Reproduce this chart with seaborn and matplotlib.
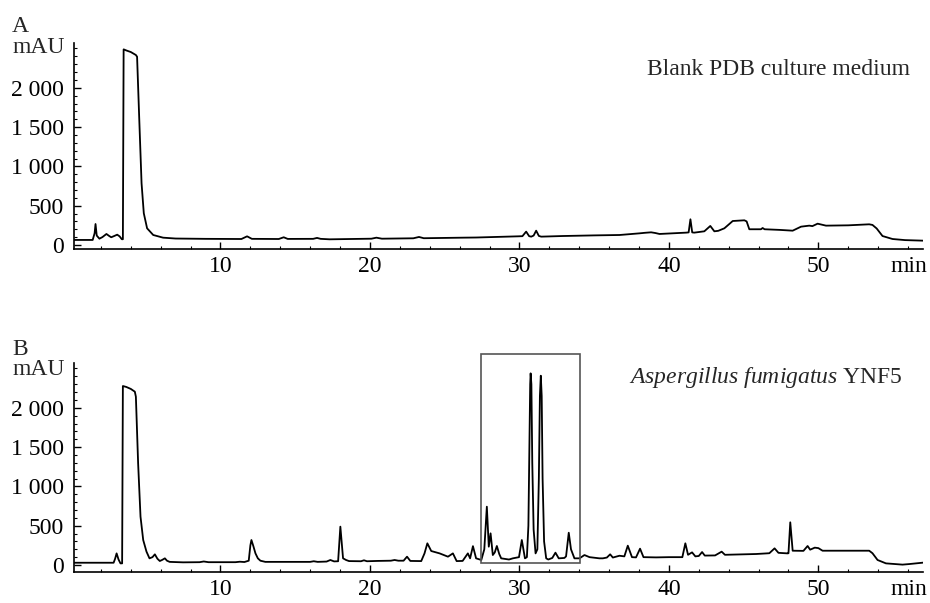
import matplotlib
matplotlib.use("Agg")
import matplotlib.pyplot as plt
import pandas as pd
import seaborn as sns
from matplotlib.ticker import MultipleLocator, FixedLocator, FuncFormatter
from matplotlib.patches import Rectangle

# ---------------- data ----------------
# Panel A: blank PDB culture medium  (time [min], signal [mAU])
trace_a = [
    (0.2, 64), (1.45, 64), (1.58, 150), (1.64, 267), (1.72, 120), (1.9, 80),
    (2.1, 100), (2.37, 140), (2.55, 115), (2.69, 98), (2.9, 115), (3.09, 131),
    (3.25, 110), (3.4, 73), (3.47, 73), (3.52, 2489), (3.7, 2475), (4.0, 2455),
    (4.34, 2417), (4.42, 2395), (4.56, 1632), (4.72, 785), (4.87, 403),
    (5.09, 212), (5.5, 127), (6.16, 93), (7.0, 82), (9.0, 78), (11.4, 76),
    (11.78, 110), (12.1, 78), (13.9, 76), (14.23, 98), (14.5, 77), (16.2, 78),
    (16.46, 90), (16.7, 78), (17.3, 72), (20.1, 80), (20.43, 93), (20.8, 80),
    (22.9, 85), (23.28, 102), (23.6, 86), (26.2, 93), (27.1, 95), (29.9, 110),
    (30.2, 112), (30.45, 170), (30.65, 112), (30.79, 106), (30.95, 120),
    (31.12, 182), (31.3, 115), (31.46, 106), (32.9, 114), (35.0, 122),
    (36.7, 127), (38.03, 148), (38.4, 155), (38.81, 161), (39.1, 152),
    (39.37, 140), (41.15, 157), (41.32, 160), (41.44, 327), (41.56, 160),
    (41.7, 157), (42.37, 174), (42.77, 242), (43.04, 174), (43.3, 180),
    (43.71, 212), (44.0, 260), (44.27, 305), (45.05, 314), (45.2, 300),
    (45.38, 200), (46.16, 200), (46.27, 216), (46.4, 200), (47.4, 192),
    (48.28, 182), (48.84, 233), (49.39, 246), (49.6, 240), (49.95, 271),
    (50.51, 246), (52.0, 250), (53.4, 263), (53.62, 255), (53.9, 210),
    (54.29, 114), (54.96, 76), (55.8, 62), (57.0, 55),
]

# Panel B: Aspergillus fumigatus YNF5
trace_b = [
    (0.2, 29), (2.85, 29), (2.95, 80), (3.05, 148), (3.18, 70), (3.31, 21),
    (3.42, 21), (3.47, 2277), (3.7, 2265), (4.0, 2240), (4.27, 2205),
    (4.34, 2141), (4.49, 1293), (4.65, 615), (4.83, 318), (5.05, 170),
    (5.25, 85), (5.45, 100), (5.61, 136), (5.78, 80), (5.94, 51), (6.1, 65),
    (6.28, 85), (6.42, 55), (6.6, 40), (7.5, 34), (8.6, 36), (8.88, 45),
    (9.2, 36), (11.0, 36), (11.3, 42), (11.6, 38), (11.89, 55), (12.0, 250),
    (12.07, 318), (12.2, 240), (12.34, 148), (12.5, 85), (12.67, 55),
    (13.0, 40), (16.0, 40), (16.24, 48), (16.5, 40), (17.1, 44), (17.35, 64),
    (17.6, 46), (17.87, 48), (18.02, 488), (18.2, 85), (18.4, 64), (18.6, 50),
    (19.4, 48), (19.6, 60), (19.8, 48), (20.5, 52), (21.4, 55), (21.65, 64),
    (21.9, 55), (22.25, 55), (22.48, 106), (22.7, 52), (23.43, 50),
    (23.65, 148), (23.84, 276), (24.1, 178), (24.66, 148), (25.22, 106),
    (25.45, 135), (25.55, 148), (25.8, 50), (26.2, 52), (26.55, 148),
    (26.7, 85), (26.89, 240), (27.1, 85), (27.45, 64), (27.65, 200),
    (27.82, 742), (27.95, 233), (28.07, 403), (28.22, 127), (28.35, 160),
    (28.49, 242), (28.65, 140), (28.78, 85), (29.3, 70), (29.56, 85),
    (29.97, 100), (30.16, 318), (30.37, 85), (30.5, 100), (30.6, 500),
    (30.67, 1500), (30.72, 2300), (30.75, 2438), (30.8, 2300), (30.86, 1300),
    (30.95, 450), (31.08, 148), (31.2, 200), (31.3, 1100), (31.37, 2150),
    (31.43, 2408), (31.49, 2150), (31.55, 1100), (31.65, 300), (31.79, 85),
    (31.93, 70), (32.2, 90), (32.41, 157), (32.63, 85), (33.01, 90),
    (33.12, 110), (33.3, 411), (33.45, 200), (33.68, 85), (34.02, 85),
    (34.35, 127), (34.69, 100), (35.35, 85), (35.58, 85), (35.85, 95),
    (36.07, 136), (36.25, 95), (36.69, 118), (37.02, 110), (37.25, 246),
    (37.53, 100), (37.8, 97), (38.07, 208), (38.3, 100), (39.14, 97),
    (40.0, 100), (40.9, 100), (41.1, 276), (41.28, 130), (41.55, 161),
    (41.77, 110), (42.0, 115), (42.22, 165), (42.4, 120), (43.09, 122),
    (43.53, 170), (43.75, 130), (44.8, 135), (45.83, 140), (46.72, 150),
    (47.07, 212), (47.33, 155), (47.94, 148), (48.0, 150), (48.12, 543),
    (48.28, 182), (49.0, 180), (49.28, 242), (49.45, 195), (49.76, 221),
    (50.0, 215), (50.28, 182), (51.5, 182), (53.4, 182), (53.62, 150),
    (53.96, 64), (54.52, 21), (55.63, 5), (56.07, 12), (57.0, 30),
]

# highlighted region in panel B: (t_start, t_end, y_bottom, y_top)
box_b = (27.4, 34.08, 21, 2680)

x_major = [10, 20, 30, 40, 50]
y_major = [0, 500, 1000, 1500, 2000]
panel_letters = ["A", "B"]
panel_titles = ["Blank PDB culture medium",
                r"$\mathit{Aspergillus\ fumigatus}$ YNF5"]
y_unit = "mAU"
x_unit = "min"

# ---------------- style ----------------
sns.set_theme(style="ticks")
plt.rcParams["font.family"] = ["Liberation Serif", "DejaVu Serif"]
plt.rcParams["mathtext.fontset"] = "custom"
plt.rcParams["mathtext.rm"] = "Liberation Serif"
plt.rcParams["mathtext.it"] = "Liberation Serif:italic"

FS = 17
W, H = 930, 603
fig = plt.figure(figsize=(W / 100, H / 100), dpi=100)
fig.patch.set_facecolor("white")

axA = fig.add_axes([74 / W, 1 - 249.3 / H, (923 - 74) / W, 206 / H])
axB = fig.add_axes([74 / W, 1 - 571.7 / H, (923 - 74) / W, 208.4 / H])

dfs = [pd.DataFrame(trace_a, columns=["time", "signal"]),
       pd.DataFrame(trace_b, columns=["time", "signal"])]
ylims = [(-55, 2566), (-85, 2566)]

fmt = FuncFormatter(lambda v, p: f"{int(round(v)):,}".replace(",", " "))

for ax, df, ylim in zip([axA, axB], dfs, ylims):
    sns.lineplot(data=df, x="time", y="signal", ax=ax, color="black",
                 lw=1.3, estimator=None, sort=False)
    ax.set_xlim(0.2, 57.0)
    ax.set_ylim(*ylim)
    ax.set_facecolor("white")
    ax.set_xlabel("")
    ax.set_ylabel("")
    ax.xaxis.set_major_locator(FixedLocator(x_major))
    ax.xaxis.set_minor_locator(MultipleLocator(2))
    ax.yaxis.set_major_locator(FixedLocator(y_major))
    ax.yaxis.set_minor_locator(MultipleLocator(100))
    ax.yaxis.set_major_formatter(fmt)
    sns.despine(ax=ax)
    for s in ["left", "bottom"]:
        ax.spines[s].set_linewidth(1.2)
        ax.spines[s].set_color("black")
    ax.tick_params(axis="both", which="major", direction="in", length=5,
                   width=1.0, color="black", labelsize=FS, labelcolor="black")
    ax.tick_params(axis="both", which="minor", direction="in", length=2.5,
                   width=0.8, color="black")
    ax.tick_params(axis="x", which="major", pad=5)
    ax.tick_params(axis="y", which="major", pad=7)
    ax.annotate(x_unit, xy=(56.05, 0), xycoords=ax.get_xaxis_transform(),
                xytext=(0, -5), textcoords="offset points",
                ha="center", va="top", fontsize=FS, color="black")

# box in panel B
t0, t1, yb, yt = box_b
axB.add_patch(Rectangle((t0, yb), t1 - t0, yt - yb, fill=False,
                        ec="#555555", lw=1.2, clip_on=False, zorder=3))

# panel letters and unit labels
fig.text(12 / W, 1 - 32 / H, panel_letters[0], fontsize=FS, va="baseline", ha="left")
fig.text(12 / W, 1 - 53 / H, y_unit, fontsize=FS, va="baseline", ha="left")
fig.text(12 / W, 1 - 355 / H, panel_letters[1], fontsize=FS, va="baseline", ha="left")
fig.text(12 / W, 1 - 375 / H, y_unit, fontsize=FS, va="baseline", ha="left")

# titles
fig.text(910 / W, 1 - 75 / H, panel_titles[0], fontsize=FS, va="baseline", ha="right")
fig.text(903 / W, 1 - 383 / H, panel_titles[1], fontsize=FS, va="baseline", ha="right")

fig.savefig("out.png", dpi=100, facecolor="white")
